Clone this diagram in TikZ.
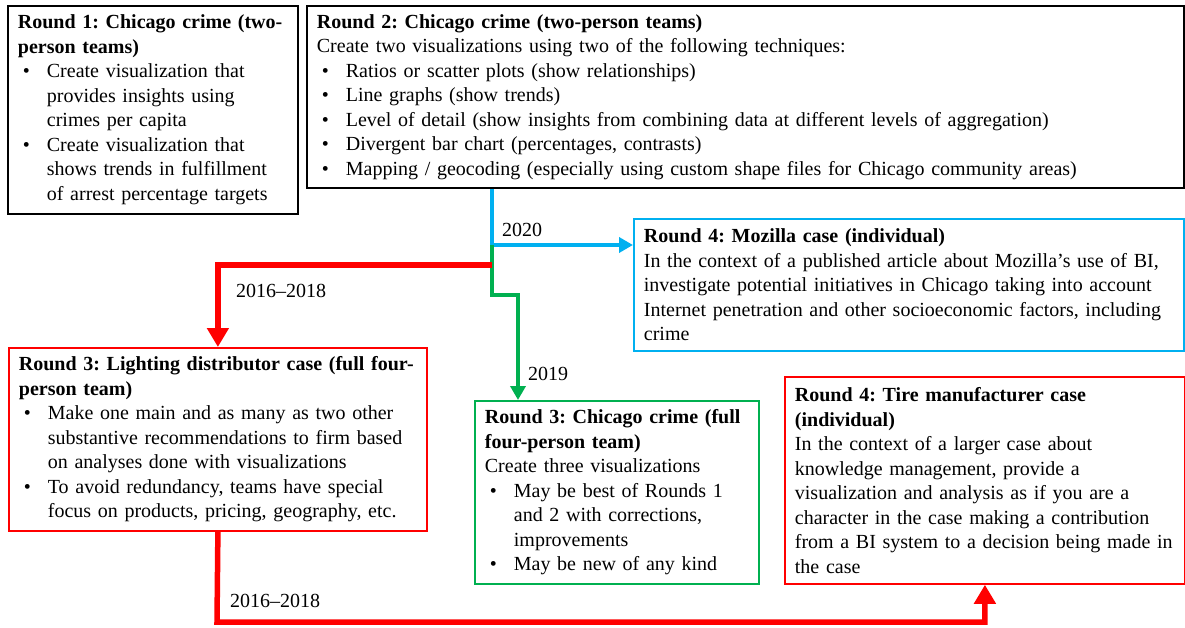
\documentclass[tikz,border=0pt]{standalone}
\usepackage{fontspec}
\setmainfont{Liberation Serif}
\usetikzlibrary{arrows.meta,positioning}
\definecolor{casecyan}{RGB}{0,176,240}
\definecolor{casegreen}{RGB}{0,176,80}
\definecolor{casered}{RGB}{255,0,0}
\newcommand{\bitem}{\par\hangindent=29pt\hangafter=1\noindent\makebox[29pt][l]{\hspace{5pt}\textbullet}}

\begin{document}
\frenchspacing
\begin{tikzpicture}[x=1pt,y=-1pt,
    roundbox/.style={draw, line width=1.8pt, anchor=north west, align=left,
      inner xsep=9pt, inner ysep=4pt, font=\fontsize{20}{24.5}\selectfont},
    flow/.style={line width=5.5pt, -{Triangle[length=19pt,width=21pt]}},
    thinflow/.style={line width=4pt, -{Triangle[length=14pt,width=15pt]}},
    yearlabel/.style={font=\fontsize{20}{24}\selectfont}]
    \useasboundingbox (0,0) rectangle (1185,628);
    % Rodada 1 e 2
    \node[roundbox, black, text width=270pt, minimum width=290pt, minimum height=208pt] (r1) at (7,5)
      {\textbf{Round 1: Chicago crime (two-}\newline\textbf{person teams)}
       \bitem Create visualization that\newline provides insights using\newline crimes per capita
       \bitem Create visualization that\newline shows trends in fulfillment\newline of arrest percentage targets\par};
    \node[roundbox, black, text width=857pt, minimum width=877pt, minimum height=182pt] (r2) at (306,5)
      {\textbf{Round 2: Chicago crime (two-person teams)}\newline
       Create two visualizations using two of the following techniques:
       \bitem Ratios or scatter plots (show relationships)
       \bitem Line graphs (show trends)
       \bitem Level of detail (show insights from combining data at different levels of aggregation)
       \bitem Divergent bar chart (percentages, contrasts)
       \bitem Mapping / geocoding (especially using custom shape files for Chicago community areas)\par};
    % Rodada 3
    \node[roundbox, draw=casered, text width=398pt, minimum width=418pt, minimum height=183pt] (light) at (8,347)
      {\textbf{Round 3: Lighting distributor case (full four-}\newline\textbf{person team)}
       \bitem Make one main and as many as two other\newline substantive recommendations to firm based\newline on analyses done with visualizations
       \bitem To avoid redundancy, teams have special\newline focus on products, pricing, geography, etc.\par};
    \node[roundbox, draw=casegreen, text width=264pt, minimum width=284pt, minimum height=183pt] (chi3) at (474,400)
      {\textbf{Round 3: Chicago crime (full}\newline\textbf{four-person team)}\newline
       Create three visualizations
       \bitem May be best of Rounds 1\newline and 2 with corrections,\newline improvements
       \bitem May be new of any kind\par};
    % Rodada 4
    \node[roundbox, draw=casecyan, text width=530pt, minimum width=550pt, minimum height=132pt] (moz) at (633,218)
      {\textbf{Round 4: Mozilla case (individual)}\newline
       In the context of a published article about Mozilla’s use of BI,\newline
       investigate potential initiatives in Chicago taking into account\newline
       Internet penetration and other socioeconomic factors, including\newline
       crime};
    \node[roundbox, draw=casered, text width=380pt, minimum width=400pt, minimum height=207pt] (tire) at (784,376)
      {\textbf{Round 4: Tire manufacturer case}\newline\textbf{(individual)}\newline
       In the context of a larger case about\newline
       knowledge management, provide a\newline
       visualization and analysis as if you are a\newline
       character in the case making a contribution\newline
       from a BI system to a decision being made in\newline
       the case};
    % Pontos de desvio
    \coordinate (split) at (492,245);
    \coordinate (redsplit) at (492,265);
    \coordinate (greenbend) at (518,295);
    \coordinate (bottom) at (217,622);
    % Setas
    \draw[thinflow, casecyan] (r2.south -| split) -- (split) -- (split -| moz.west);
    \draw[thinflow, casegreen] (split) |- (greenbend) -- (greenbend |- chi3.north);
    \draw[flow, casered] (redsplit) -| (light.north);
    \draw[flow, casered] (light.south) -- (bottom) -| (tire.south);
    % Anos
    \node[yearlabel] (y2020) at (522,230) {2020};
    \node[yearlabel] (y2019) at (548,374) {2019};
    \node[yearlabel] (ytop) at (281,291) {2016--2018};
    \node[yearlabel] (ybottom) at (275,601) {2016--2018};
\end{tikzpicture}
\end{document}
